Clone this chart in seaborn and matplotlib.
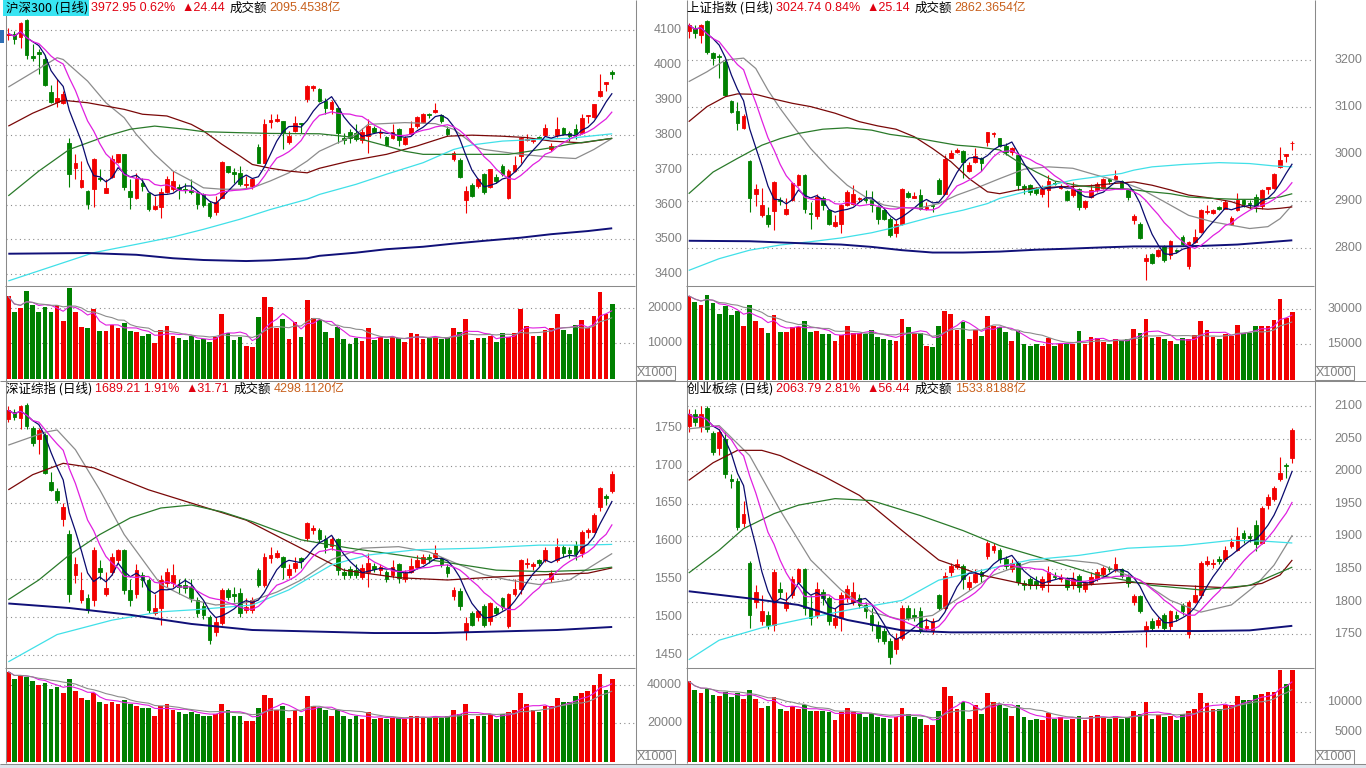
import numpy as np
import pandas as pd
import matplotlib
matplotlib.use("Agg")
import matplotlib.pyplot as plt
import seaborn as sns
from matplotlib.patches import Rectangle

# ======================= DATA =======================
# ---- 沪深300 ----
hs_open = [4086,4088,4080,4128,4026,4038,4016,3923,3895,3892,
           3776,3704,3650,3639,3646,3677,3634,3680,3722,3746,
           3639,3620,3663,3632,3588,3593,3637,3644,3650,3646,
           3642,3632,3629,3604,3580,3620,3710,3693,3691,3656,
           3653,3765,3720,3838,3840,3839,3780,3811,3834,3904,
           3935,3930,3897,3873,3878,3792,3809,3806,3784,3796,
           3820,3804,3794,3790,3816,3774,3803,3825,3838,3860,
           3864,3858,3818,3732,3727,3612,3656,3653,3689,3650,
           3679,3712,3620,3696,3739,3785,3782,3794,3799,3759,
           3799,3820,3806,3818,3806,3854,3851,3911,3947,3981]
hs_high = [4105,4097,4124,4131,4059,4045,4030,3944,3959,3925,
           3792,3744,3725,3641,3734,3701,3674,3742,3746,3746,
           3672,3690,3677,3634,3625,3648,3682,3696,3660,3663,
           3674,3639,3634,3610,3625,3725,3712,3706,3712,3682,
           3677,3773,3846,3859,3859,3839,3811,3854,3835,3942,
           3944,3935,3906,3901,3880,3806,3816,3830,3820,3844,
           3825,3816,3796,3830,3820,3796,3839,3854,3863,3863,
           3892,3860,3825,3753,3734,3653,3663,3677,3691,3703,
           3687,3715,3701,3739,3794,3801,3790,3796,3830,3777,
           3851,3822,3811,3830,3859,3858,3889,3973,3951,3987]
hs_low = [4071,4061,4050,4018,4011,3973,3940,3892,3880,3889,
          3650,3674,3647,3588,3593,3668,3632,3677,3720,3641,
          3588,3615,3639,3582,3584,3561,3634,3639,3617,3634,
          3629,3588,3593,3561,3569,3618,3691,3663,3653,3648,
          3644,3718,3718,3820,3838,3758,3774,3809,3806,3895,
          3925,3895,3860,3860,3777,3774,3777,3782,3777,3749,
          3806,3792,3768,3787,3768,3771,3801,3820,3835,3849,
          3863,3835,3796,3725,3677,3577,3622,3648,3629,3647,
          3663,3682,3617,3694,3720,3782,3777,3787,3796,3753,
          3794,3799,3782,3787,3803,3835,3849,3908,3927,3959]
hs_close = [4090,4076,4121,4028,4021,4033,3944,3895,3906,3916,
            3689,3720,3670,3603,3732,3673,3648,3730,3746,3650,
            3622,3672,3653,3586,3596,3637,3674,3668,3646,3642,
            3636,3603,3599,3567,3608,3722,3694,3689,3658,3660,
            3672,3720,3830,3842,3844,3806,3796,3835,3830,3940,
            3939,3897,3876,3895,3806,3786,3790,3787,3809,3825,
            3809,3808,3771,3809,3784,3792,3820,3852,3861,3857,
            3872,3839,3803,3749,3679,3639,3625,3674,3637,3701,
            3668,3687,3696,3713,3792,3789,3786,3790,3820,3767,
            3818,3803,3796,3801,3849,3858,3887,3927,3951,3973]
hs_vol = [23200,18900,19900,24700,20700,18900,20100,18900,20800,16300,
          25600,18700,14700,14400,19700,13400,13400,15100,14200,15600,
          13400,13200,12100,12500,10100,13700,14900,12100,11500,10900,
          12100,10900,11100,10400,11800,18300,13000,10900,11800,9200,
          8900,17500,22900,20100,14400,16900,11100,15900,11800,22100,
          17200,16600,13200,11500,14700,11100,9900,11500,10600,14200,
          10900,11800,11100,11800,11500,10400,12800,12500,11100,11500,
          11800,11300,11500,14200,13200,16900,10900,11500,11500,12100,
          10400,12800,11800,13000,19700,14900,12100,12100,13700,14200,
          18200,13700,12600,15100,16600,14400,17700,24500,18300,21000]
hs_gray_i = [0,8,9,13,16,19,21,24,27,30,32,35,38,40,43,46,49,51,54,57,59,65,70,73,77,78,84,89,93,96,99]
hs_gray_v = [3937,4021,4016,3954,3892,3849,3801,3744,3696,3668,3648,3644,3644,3648,3668,3691,3725,3753,3777,3801,3830,3835,3832,3816,3763,3758,3744,3736,3732,3758,3790]
hs_maroon_i = [0,4,9,13,19,22,26,30,32,35,38,40,43,46,49,51,56,62,67,72,76,81,85,89,94,99]
hs_maroon_v = [3825,3862,3899,3892,3873,3859,3854,3830,3811,3773,3739,3715,3704,3696,3691,3704,3725,3744,3768,3796,3799,3796,3792,3782,3777,3790]
hs_green_i = [0,5,10,16,20,24,29,32,38,43,51,57,59,62,65,68,73,78,82,84,89,92,99]
hs_green_v = [3625,3696,3758,3796,3816,3825,3816,3809,3806,3804,3803,3792,3782,3768,3753,3744,3744,3744,3744,3749,3763,3773,3790]
hs_cyan_i = [0,14,21,27,32,38,43,49,51,57,62,68,73,76,81,87,92,99]
hs_cyan_v = [3381,3462,3486,3507,3529,3558,3586,3615,3629,3658,3687,3720,3758,3771,3782,3787,3790,3803]
hs_navy_i = [0,13,21,27,32,39,43,49,51,57,62,68,73,78,84,89,95,99]
hs_navy_v = [3459,3461,3456,3446,3441,3438,3440,3446,3453,3462,3472,3479,3488,3496,3505,3515,3524,3532]

# ---- 上证指数 ----
sh_open = [3261.7,3267.3,3253.2,3282.9,3214.2,3208.5,3196.4,3112.8,3091.5,3054.6,
           2985.2,2916.4,2871.7,2870.3,2878.8,2903.6,2873.1,2902.2,2934.1,2955.4,
           2875.3,2868.9,2907.2,2880.9,2847.6,2852.6,2891.6,2895.1,2904.9,2905.7,
           2902.2,2888.0,2880.9,2861.8,2833.4,2852.6,2917.8,2907.9,2912.8,2884.5,
           2893.0,2944.8,2916.4,2992.2,3005.0,3006.4,2963.9,2982.3,2992.2,3024.9,
           3042.6,3033.4,3017.8,3005.0,2998.0,2932.0,2935.5,2925.6,2914.3,2923.5,
           2939.0,2929.1,2921.3,2912.8,2925.6,2888.0,2909.3,2923.5,2928.4,2946.2,
           2946.9,2943.3,2923.5,2859.7,2852.6,2772.5,2788.8,2783.8,2805.1,2785.2,
           2797.3,2824.2,2762.5,2813.6,2834.9,2877.4,2876.0,2887.3,2884.5,2852.6,
           2880.9,2902.2,2896.5,2909.3,2890.2,2927.0,2928.4,2973.1,2996.5,3023.4]
sh_high = [3278.0,3274.4,3275.9,3285.0,3217.7,3212.0,3200.0,3115.0,3110.0,3084.4,
           2987.3,2937.6,2928.4,2888.0,2942.6,2909.3,2907.2,2941.2,2956.8,2956.8,
           2898.7,2916.4,2911.4,2883.0,2871.7,2895.1,2923.5,2935.5,2909.3,2923.5,
           2921.3,2891.6,2884.5,2866.8,2859.7,2928.4,2921.3,2919.9,2925.6,2898.7,
           2895.1,2948.3,2997.9,3008.6,3012.1,3008.6,2983.7,3012.1,2994.4,3047.6,
           3047.6,3034.8,3022.7,3015.6,2999.3,2937.6,2937.6,2930.6,2934.1,2955.4,
           2942.6,2937.6,2923.5,2941.2,2928.4,2902.2,2937.6,2941.2,2948.3,2948.3,
           2966.0,2944.8,2927.0,2873.8,2856.1,2788.8,2790.9,2799.4,2806.5,2817.1,
           2799.4,2827.8,2815.0,2840.5,2884.5,2891.6,2884.5,2890.2,2902.2,2868.9,
           2918.5,2905.7,2902.2,2916.4,2927.0,2930.6,2958.9,3015.6,2999.3,3027.7]
sh_low = [3246.0,3246.0,3235.4,3212.0,3189.4,3161.0,3124.0,3086.5,3051.1,3053.2,
          2877.4,2890.2,2866.8,2845.5,2838.4,2893.0,2871.7,2900.1,2932.7,2876.0,
          2842.0,2863.2,2880.9,2850.5,2845.5,2833.4,2890.2,2891.6,2898.7,2897.2,
          2877.4,2852.6,2859.7,2824.2,2824.2,2850.5,2907.2,2905.8,2880.9,2880.9,
          2877.4,2915.0,2915.0,2990.8,3001.5,2949.7,2962.5,2980.9,2963.9,3017.8,
          3036.9,3015.7,2998.0,2998.0,2923.5,2916.4,2912.8,2912.8,2909.3,2888.0,
          2934.1,2927.0,2900.1,2909.3,2880.9,2884.5,2907.2,2919.9,2925.6,2937.6,
          2944.8,2925.6,2902.2,2852.6,2820.7,2732.0,2767.5,2781.7,2771.1,2776.7,
          2790.9,2807.9,2755.4,2812.2,2833.4,2873.8,2873.8,2880.9,2883.0,2849.0,
          2878.8,2888.0,2884.5,2877.4,2884.5,2916.4,2927.0,2971.0,2983.7,3008.6]
sh_close = [3274.4,3256.7,3274.4,3217.7,3203.5,3205.7,3125.5,3088.7,3065.3,3081.6,
            2907.2,2927.0,2893.0,2852.6,2941.2,2900.8,2884.5,2937.7,2955.4,2884.5,
            2872.4,2909.3,2893.0,2852.6,2856.1,2891.6,2919.9,2914.3,2907.7,2902.2,
            2891.6,2863.2,2861.8,2829.2,2852.6,2927.0,2909.3,2910.7,2884.5,2887.3,
            2890.2,2916.4,2989.4,3001.5,3007.8,2983.7,2976.7,2996.5,2980.2,3047.6,
            3045.4,3017.8,3005.0,3013.5,2934.1,2929.1,2919.9,2918.5,2927.0,2942.6,
            2936.2,2932.0,2902.2,2927.0,2888.0,2900.1,2923.5,2937.6,2946.9,2943.3,
            2953.3,2928.4,2909.3,2868.9,2822.1,2779.5,2769.6,2795.9,2774.6,2815.0,
            2794.4,2810.0,2813.6,2824.2,2882.4,2880.2,2880.9,2884.5,2898.7,2864.6,
            2902.2,2895.1,2893.7,2890.2,2923.5,2929.9,2956.8,2987.3,2999.6,3024.7]
sh_vol = [35600,32900,31700,36000,32400,27900,31400,27400,29300,22900,
          31700,24900,22000,19600,27400,20300,20300,22400,22400,24900,
          20300,20600,19300,19300,16300,18900,22700,20000,20000,19200,
          21000,18200,17400,16700,16300,25700,22400,19600,19600,14300,
          13900,22700,29300,27900,21000,24600,17200,21000,18600,27000,
          22900,22200,20300,16300,20600,15300,14300,15300,14300,17700,
          14200,15300,15300,15300,20600,15200,18200,17700,16000,15300,
          17200,16700,17400,21700,19900,25700,17700,18200,17200,16300,
          15300,17700,17400,18900,24900,21000,18200,17200,19300,18600,
          23200,19600,20000,22700,22700,22700,25300,34200,26300,28900]
sh_gray_i = [0,3,6,9,11,13,15,17,20,23,26,29,32,35,38,41,44,47,51,55,59,63,67,71,74,78,82,86,89,92,95,97,99]
sh_gray_v = [3154,3175,3200,3204,3182,3136,3097,3062,3012,2970,2934,2909,2892,2886,2886,2895,2913,2927,2948,2968,2973,2970,2955,2941,2927,2899,2870,2856,2849,2842,2846,2863,2892]
sh_maroon_i = [0,3,6,8,11,14,17,20,24,28,31,34,37,40,43,46,49,51,54,58,62,66,70,73,76,79,82,86,89,92,95,97,99]
sh_maroon_v = [3069,3101,3122,3128,3127,3117,3108,3101,3087,3069,3060,3053,3037,3012,2984,2948,2920,2916,2924,2929,2931,2933,2938,2941,2934,2924,2913,2906,2899,2886,2883,2885,2888]
sh_green_i = [0,4,8,12,15,18,22,26,30,33,37,40,44,47,51,54,57,60,64,68,72,75,79,82,86,90,94,97,99]
sh_green_v = [2916,2962,2991,3019,3033,3044,3053,3056,3051,3042,3035,3028,3019,3016,3009,2984,2962,2943,2933,2928,2926,2921,2916,2909,2906,2904,2904,2909,2916]
sh_cyan_i = [0,5,10,15,20,25,30,33,36,40,45,49,51,57,60,63,67,71,73,76,81,87,92,96,99]
sh_cyan_v = [2753,2778,2796,2807,2814,2822,2833,2842,2853,2867,2881,2895,2906,2926,2936,2945,2952,2959,2966,2973,2978,2982,2980,2975,2973]
sh_navy_i = [0,10,20,25,30,35,40,45,51,57,62,68,73,79,84,90,95,99]
sh_navy_v = [2816,2815,2810,2808,2803,2796,2791,2791,2793,2797,2799,2802,2804,2804,2805,2808,2813,2817]

# ---- 深证综指 ----
sz_open = [1761,1771,1763,1780,1750,1735,1740,1678,1666,1630,
           1610,1555,1523,1525,1523,1565,1530,1560,1575,1589,
           1536,1530,1555,1549,1505,1512,1545,1545,1543,1542,
           1540,1523,1515,1500,1480,1492,1536,1530,1532,1510,
           1510,1562,1543,1578,1580,1580,1555,1565,1578,1605,
           1615,1615,1603,1594,1603,1560,1563,1562,1553,1560,
           1568,1562,1560,1555,1570,1550,1560,1566,1572,1580,
           1580,1578,1566,1528,1535,1480,1505,1500,1515,1495,
           1512,1525,1488,1530,1537,1570,1568,1575,1575,1550,
           1575,1592,1588,1595,1584,1612,1613,1645,1660,1666]
sz_high = [1778,1775,1780,1782,1752,1750,1743,1691,1670,1650,
           1615,1580,1560,1530,1592,1575,1560,1585,1590,1590,
           1550,1570,1560,1552,1530,1555,1565,1570,1550,1552,
           1550,1527,1520,1503,1500,1538,1538,1540,1538,1525,
           1526,1565,1585,1592,1588,1581,1570,1580,1580,1626,
           1622,1617,1608,1606,1605,1565,1567,1570,1570,1585,
           1572,1570,1562,1575,1572,1562,1578,1582,1583,1583,
           1595,1580,1570,1540,1538,1500,1508,1510,1517,1520,
           1515,1527,1532,1550,1577,1578,1573,1577,1592,1562,
           1605,1595,1592,1600,1615,1618,1637,1672,1663,1693]
sz_low = [1757,1760,1748,1748,1726,1715,1689,1666,1650,1620,
          1520,1545,1518,1505,1515,1550,1528,1555,1572,1530,
          1515,1525,1540,1505,1503,1490,1540,1540,1530,1532,
          1520,1500,1498,1465,1475,1490,1523,1520,1500,1505,
          1505,1540,1540,1572,1578,1550,1552,1560,1565,1600,
          1610,1598,1585,1588,1555,1550,1552,1552,1550,1540,
          1560,1556,1546,1552,1545,1547,1558,1563,1570,1572,
          1578,1566,1553,1522,1510,1470,1488,1495,1487,1490,
          1503,1510,1485,1528,1530,1565,1562,1568,1573,1547,
          1573,1580,1578,1575,1580,1605,1612,1640,1648,1664]
sz_close = [1773,1764,1778,1752,1730,1747,1690,1668,1655,1645,
            1530,1570,1536,1510,1589,1560,1538,1580,1589,1536,
            1523,1562,1549,1510,1512,1549,1560,1555,1540,1538,
            1525,1505,1503,1470,1494,1536,1526,1528,1506,1513,
            1523,1543,1580,1582,1584,1566,1563,1572,1574,1624,
            1618,1603,1592,1603,1562,1555,1556,1555,1565,1572,
            1564,1566,1550,1566,1552,1558,1568,1575,1580,1578,
            1585,1570,1558,1536,1515,1492,1490,1508,1490,1518,
            1506,1514,1530,1537,1575,1572,1570,1572,1588,1558,
            1592,1585,1585,1583,1612,1615,1635,1670,1657.5,1689.2]
sz_vol = [47000,43000,45000,44000,42000,40000,41000,38000,39000,36000,
          43000,37000,33000,32000,36000,31000,30000,31000,30000,32000,
          30000,29000,28000,28000,24000,29000,30000,27000,26000,25000,
          26000,25000,24000,24000,25000,30000,27000,24000,24000,21000,
          21000,28000,35000,33000,27000,29000,23000,27000,24000,34000,
          29000,28000,27000,24000,27000,24000,22000,24000,22000,26000,
          22000,23000,22000,23000,23000,22000,24000,24000,23000,23000,
          24000,23000,24000,27000,25000,30000,22000,24000,24000,25000,
          22000,25000,26000,27000,36000,30000,27000,26000,29000,29000,
          33000,31000,31000,34000,36000,37000,40000,46000,37400,43200]
sz_gray_i = [0,6,8,11,15,19,22,25,30,34,39,44,48,53,58,64,69,74,78,82,87,92,96,99]
sz_gray_v = [1727,1744,1747,1721,1668,1609,1576,1543,1523,1516,1519,1533,1549,1576,1591,1593,1586,1569,1556,1549,1543,1549,1569,1584]
sz_maroon_i = [0,4,9,14,18,23,31,39,47,55,64,72,80,88,95,99]
sz_maroon_v = [1668,1688,1703,1697,1684,1668,1648,1628,1595,1562,1552,1549,1553,1556,1558,1565]
sz_green_i = [0,5,10,15,20,25,30,35,40,48,56,64,72,80,88,95,99]
sz_green_v = [1523,1549,1582,1609,1631,1644,1648,1639,1626,1602,1591,1582,1572,1562,1560,1562,1566]
sz_cyan_i = [0,8,17,25,31,40,46,53,59,67,77,87,94,99]
sz_cyan_v = [1441,1477,1496,1507,1510,1516,1536,1569,1582,1589,1591,1595,1595,1596]
sz_navy_i = [0,10,20,30,40,50,60,70,80,90,99]
sz_navy_v = [1518,1512,1503,1491,1483,1481,1479,1479,1481,1483,1487]

# ---- 创业板综 ----
cy_open = [2070,2088,2068,2097,2058,2035,2050,1988,1985,1920,
           1860,1800,1770,1780,1765,1820,1790,1810,1830,1850,
           1790,1780,1815,1805,1765,1775,1805,1800,1805,1795,
           1780,1765,1755,1740,1728,1745,1790,1780,1785,1760,
           1755,1810,1790,1845,1853,1855,1822,1830,1845,1870,
           1880,1880,1865,1850,1860,1828,1835,1832,1822,1830,
           1840,1835,1835,1825,1840,1820,1828,1835,1842,1852,
           1848,1850,1838,1800,1808,1755,1770,1765,1780,1762,
           1780,1795,1750,1800,1810,1858,1858,1866,1865,1885,
           1880,1905,1900,1918,1890,1948,1958,1988,2009,2021]
cy_high = [2095,2095,2100,2100,2062,2065,2060,1995,1990,1955,
           1862,1825,1810,1785,1850,1830,1815,1840,1852,1852,
           1810,1830,1820,1808,1790,1815,1825,1830,1812,1800,
           1790,1770,1760,1745,1752,1795,1795,1790,1792,1775,
           1775,1812,1845,1860,1865,1858,1840,1850,1848,1893,
           1890,1883,1870,1865,1862,1833,1838,1840,1840,1855,
           1845,1842,1838,1845,1842,1832,1845,1850,1855,1855,
           1868,1852,1842,1812,1810,1770,1775,1776,1782,1787,
           1785,1798,1802,1825,1862,1870,1865,1870,1885,1897,
           1915,1910,1905,1925,1946,1965,1978,2022,2012,2066]
cy_low = [2060,2070,2060,2060,2025,2025,1990,1975,1910,1915,
          1760,1790,1765,1758,1755,1805,1785,1805,1828,1780,
          1765,1775,1795,1765,1760,1755,1800,1795,1790,1775,
          1755,1738,1735,1705,1720,1742,1772,1770,1752,1755,
          1750,1788,1788,1840,1850,1820,1818,1828,1830,1865,
          1875,1860,1850,1845,1825,1818,1820,1820,1818,1815,
          1835,1830,1818,1820,1815,1815,1825,1832,1840,1845,
          1845,1836,1822,1795,1782,1730,1755,1760,1755,1755,
          1770,1780,1745,1798,1805,1855,1852,1858,1862,1882,
          1878,1890,1892,1878,1888,1942,1955,1985,1990,2013]
cy_close = [2088,2075,2088,2065,2030,2060,1995,1985,1915,1935,
            1780,1815,1785,1765,1845,1815,1800,1835,1850,1790,
            1775,1820,1805,1770,1775,1810,1820,1815,1795,1785,
            1765,1745,1740,1715,1745,1790,1775,1777,1755,1763,
            1770,1790,1840,1855,1858,1835,1830,1843,1840,1890,
            1885,1865,1855,1860,1830,1825,1825,1825,1835,1845,
            1838,1838,1822,1835,1822,1828,1838,1845,1852,1850,
            1858,1840,1828,1808,1785,1762,1760,1772,1760,1785,
            1775,1785,1800,1810,1860,1862,1860,1862,1880,1892,
            1900,1897,1897,1889,1943,1960,1974,1998,2007.4,2063.8]
cy_vol = [13500,12000,11600,12200,11200,11000,11700,10900,11500,10500,
          12000,10500,9000,9300,10800,8800,8500,9300,8800,9500,
          8500,8500,8500,8300,7000,8300,9000,8300,8000,7600,
          8000,7500,7400,7300,7600,9000,8000,7500,7300,6300,
          6200,8500,12500,11000,8800,10000,7200,9500,8000,11500,
          10000,9500,9000,7800,9500,7500,7000,7300,7000,8200,
          7200,7500,7000,7300,7700,7100,7800,7900,7400,7300,
          7800,7200,7500,8600,8100,10000,7300,7900,7600,7800,
          7000,8000,8500,8800,11500,9800,8800,8800,9600,9500,
          11000,10300,10400,11200,11400,11700,11700,15400,13000,15400]
cy_gray_i = [0,5,10,15,20,25,30,35,40,45,50,56,62,67,74,79,84,89,93,96,99]
cy_gray_v = [2065,2070,2024,1940,1864,1818,1784,1772,1779,1810,1841,1861,1864,1859,1833,1802,1784,1795,1825,1856,1902]
cy_maroon_i = [0,4,8,12,15,22,28,35,41,48,56,64,72,80,89,94,97,99]
cy_maroon_v = [1986,2013,2032,2032,2024,1993,1963,1909,1864,1841,1825,1825,1830,1825,1821,1828,1841,1864]
cy_green_i = [0,5,9,14,18,24,30,38,45,51,59,67,76,84,92,99]
cy_green_v = [1844,1879,1912,1935,1948,1958,1955,1932,1909,1886,1864,1841,1825,1818,1825,1853]
cy_cyan_i = [0,5,12,18,26,35,41,48,56,64,72,81,89,94,99]
cy_cyan_v = [1711,1741,1760,1772,1787,1802,1833,1848,1864,1871,1882,1886,1894,1893,1890]
cy_navy_i = [0,10,18,26,35,43,51,59,68,76,84,92,99]
cy_navy_v = [1816,1805,1795,1772,1756,1753,1753,1753,1753,1755,1755,1756,1763]

# titles
hs_title = ["沪深300 (日线)", "3972.95 0.62%", "▲24.44", "成交额", "2095.4538亿"]
sh_title = ["上证指数 (日线)", "3024.74 0.84%", "▲25.14", "成交额", "2862.3654亿"]
sz_title = ["深证综指 (日线)", "1689.21 1.91%", "▲31.71", "成交额", "4298.1120亿"]
cy_title = ["创业板综 (日线)", "2063.79 2.81%", "▲56.44", "成交额", "1533.8188亿"]

hs_pticks = [3400, 3500, 3600, 3700, 3800, 3900, 4000, 4100]
sh_pticks = [2800, 2900, 3000, 3100, 3200]
sz_pticks = [1450, 1500, 1550, 1600, 1650, 1700, 1750]
cy_pticks = [1750, 1800, 1850, 1900, 1950, 2000, 2050, 2100]
hs_vticks = [10000, 20000]
sh_vticks = [15000, 30000]
sz_vticks = [20000, 40000]
cy_vticks = [5000, 10000]

# ======================= STYLE =======================
sns.set_theme(style="white")
plt.rcParams["font.family"] = ["Noto Sans CJK SC", "DejaVu Sans"]
plt.rcParams["lines.solid_capstyle"] = "butt"

W, H = 1366, 768
fig = plt.figure(figsize=(W / 100, H / 100), dpi=100, facecolor="white")

RED = "#f20000"
GREEN = "#008000"
C_MA5 = "#0a0a6e"
C_MA10 = "#e020e0"
C_GRAY = "#8c8c8c"
C_MAROON = "#7a0808"
C_GREENMA = "#2a7a2a"
C_CYAN = "#40e0e8"
C_NAVY = "#101078"
FRAME = "#8a8a8a"
LABEL = "#808080"
NUMFONT = ["Liberation Sans", "DejaVu Sans"]


def add_ax(x0, y0, x1, y1):
    return fig.add_axes([x0 / W, 1 - y1 / H, (x1 - x0) / W, (y1 - y0) / H])


def lim_from(anchors, ytop, ybot):
    (va, ya), (vb, yb) = anchors
    s = (va - vb) / (yb - ya)
    return (va - (ybot - ya) * s, va - (ytop - ya) * s)


panels = [
    dict(o=hs_open, h=hs_high, l=hs_low, c=hs_close, v=hs_vol,
         mas=[(hs_gray_i, hs_gray_v, C_GRAY, 0.9), (hs_maroon_i, hs_maroon_v, C_MAROON, 0.9),
              (hs_green_i, hs_green_v, C_GREENMA, 0.9), (hs_cyan_i, hs_cyan_v, C_CYAN, 0.9),
              (hs_navy_i, hs_navy_v, C_NAVY, 1.4)],
         title=hs_title, pt=hs_pticks, vt=hs_vticks, xs=(6, 635), x_first=8.3, sp=6.1,
         py=(16, 285.5), vy=(286, 380.5), pa=((4100, 30.2), (3400, 274.3)),
         va=((20000, 307.7), (10000, 343.3)), lab_x=682, ty=8, hl=True),
    dict(o=sh_open, h=sh_high, l=sh_low, c=sh_close, v=sh_vol,
         mas=[(sh_gray_i, sh_gray_v, C_GRAY, 0.9), (sh_maroon_i, sh_maroon_v, C_MAROON, 0.9),
              (sh_green_i, sh_green_v, C_GREENMA, 0.9), (sh_cyan_i, sh_cyan_v, C_CYAN, 0.9),
              (sh_navy_i, sh_navy_v, C_NAVY, 1.4)],
         title=sh_title, pt=sh_pticks, vt=sh_vticks, xs=(687, 1314), x_first=688.7, sp=6.097,
         py=(16, 285.5), vy=(286, 380.5), pa=((3200, 60.0), (2800, 248.3)),
         va=((30000, 309.0), (15000, 344.3)), lab_x=1362, ty=8, hl=False),
    dict(o=sz_open, h=sz_high, l=sz_low, c=sz_close, v=sz_vol,
         mas=[(sz_gray_i, sz_gray_v, C_GRAY, 0.9), (sz_maroon_i, sz_maroon_v, C_MAROON, 0.9),
              (sz_green_i, sz_green_v, C_GREENMA, 0.9), (sz_cyan_i, sz_cyan_v, C_CYAN, 0.9),
              (sz_navy_i, sz_navy_v, C_NAVY, 1.4)],
         title=sz_title, pt=sz_pticks, vt=sz_vticks, xs=(6, 635), x_first=8.3, sp=6.1,
         py=(397, 667.5), vy=(668, 763), pa=((1750, 427.7), (1450, 655.0)),
         va=((40000, 685.0), (20000, 723.3)), lab_x=682, ty=389, hl=False),
    dict(o=cy_open, h=cy_high, l=cy_low, c=cy_close, v=cy_vol,
         mas=[(cy_gray_i, cy_gray_v, C_GRAY, 0.9), (cy_maroon_i, cy_maroon_v, C_MAROON, 0.9),
              (cy_green_i, cy_green_v, C_GREENMA, 0.9), (cy_cyan_i, cy_cyan_v, C_CYAN, 0.9),
              (cy_navy_i, cy_navy_v, C_NAVY, 1.4)],
         title=cy_title, pt=cy_pticks, vt=cy_vticks, xs=(687, 1314), x_first=688.7, sp=6.097,
         py=(397, 667.5), vy=(668, 763), pa=((2100, 406.0), (1750, 634.3)),
         va=((10000, 702.3), (5000, 732.3)), lab_x=1362, ty=389, hl=False),
]


def draw_panel(p):
    x0, x1 = p["xs"]
    xlim = ((x0 - p["x_first"]) / p["sp"], (x1 - p["x_first"]) / p["sp"])
    axp = add_ax(x0, p["py"][0], x1, p["py"][1])
    axv = add_ax(x0, p["vy"][0], x1, p["vy"][1])

    o = np.array(p["o"], float); h = np.array(p["h"], float)
    l = np.array(p["l"], float); c = np.array(p["c"], float)
    v = np.array(p["v"], float)
    idx = np.arange(len(o))
    up = c >= o
    cols = np.where(up, RED, GREEN)

    for t in p["pt"]:
        axp.axhline(t, color="#8c8c8c", lw=0.8, ls=(0, (1, 3)), zorder=1)
    for t in p["vt"]:
        axv.axhline(t, color="#8c8c8c", lw=0.8, ls=(0, (1, 3)), zorder=1)

    axp.vlines(idx, l, h, colors=cols, lw=0.8, zorder=3)
    axp.bar(idx, np.abs(c - o), bottom=np.minimum(o, c), width=0.6,
            color=cols, edgecolor=cols, linewidth=0.6, zorder=4)

    cs = pd.Series(c)
    sns.lineplot(x=idx, y=cs.rolling(5, min_periods=1).mean().values, ax=axp,
                 color=C_MA5, lw=0.9, zorder=6)
    sns.lineplot(x=idx, y=cs.rolling(10, min_periods=1).mean().values, ax=axp,
                 color=C_MA10, lw=0.9, zorder=6)
    for mi, mv, col, lw in p["mas"]:
        sns.lineplot(x=mi, y=mv, ax=axp, color=col, lw=lw, zorder=5)

    df = pd.DataFrame({"i": idx, "v": v, "d": np.where(up, "up", "dn")})
    sns.barplot(data=df, x="i", y="v", hue="d", palette={"up": RED, "dn": GREEN},
                native_scale=True, dodge=False, width=0.78, saturation=1,
                errorbar=None, legend=False, linewidth=0, ax=axv, zorder=3)
    vs = pd.Series(v)
    sns.lineplot(x=idx, y=vs.rolling(5, min_periods=1).mean().values, ax=axv,
                 color=C_MA10, lw=0.8, zorder=5)
    sns.lineplot(x=idx, y=vs.rolling(10, min_periods=1).mean().values, ax=axv,
                 color=C_GRAY, lw=0.8, zorder=5)

    axp.set_xlim(*xlim); axv.set_xlim(*xlim)
    axp.set_ylim(*lim_from(p["pa"], p["py"][0], p["py"][1]))
    axv.set_ylim(*lim_from(p["va"], p["vy"][0], p["vy"][1]))
    for ax in (axp, axv):
        ax.set_axis_off()
        ax.patch.set_alpha(0)

    lx = (p["lab_x"] - x0) / (x1 - x0)
    for ax, ticks in ((axp, p["pt"]), (axv, p["vt"])):
        tr = ax.get_yaxis_transform()
        for t in ticks:
            ax.text(lx, t, f"{t}", transform=tr, ha="right", va="center",
                    fontsize=9, color=LABEL, family=NUMFONT, clip_on=False)


for p in panels:
    draw_panel(p)

ov = fig.add_axes([0, 0, 1, 1])
ov.set_xlim(0, W)
ov.set_ylim(H, 0)
ov.set_axis_off()
ov.patch.set_alpha(0)

LK = dict(color=FRAME, lw=0.75, solid_capstyle="butt")
for x in (5.5, 635.5, 686.5, 1314.5):
    ov.plot([x, x], [0, 763], **LK)
ov.plot([5, 635], [285.5, 285.5], **LK)
ov.plot([686, 1314], [285.5, 285.5], **LK)
ov.plot([0, W], [380.5, 380.5], **LK)
ov.plot([5, 635], [667.5, 667.5], **LK)
ov.plot([686, 1314], [667.5, 667.5], **LK)
ov.plot([0, W], [763.5, 763.5], **LK)
ov.add_patch(Rectangle((0, 764), W, 4, facecolor="#dfe5ec", edgecolor="none"))
ov.add_patch(Rectangle((0, 30), 4, 13, facecolor="#2f6fb5", edgecolor="none"))

for bx, by in ((635.5, 366), (1314.5, 366), (635.5, 750), (1314.5, 750)):
    ov.add_patch(Rectangle((bx, by), 39, 14, facecolor="white", edgecolor=FRAME, lw=0.75))
    ov.text(bx + 19.5, by + 7.5, "X1000", ha="center", va="center", fontsize=9,
            color=LABEL, family=NUMFONT)

renderer = fig.canvas.get_renderer()
T_RED = "#e00010"
T_ORANGE = "#c8601c"


def title_row(x, y, pieces, highlight):
    styles = [("#000000", ["Noto Sans CJK SC", "DejaVu Sans"]),
              (T_RED, ["Liberation Sans", "Noto Sans CJK SC"]),
              (T_RED, ["Liberation Sans", "Noto Sans CJK SC"]),
              ("#000000", ["Noto Sans CJK SC", "DejaVu Sans"]),
              (T_ORANGE, ["Liberation Sans", "Noto Sans CJK SC"])]
    gaps = [3, 6, 4, 3, 0]
    for k, (s, (col, fam)) in enumerate(zip(pieces, styles)):
        t = ov.text(x, y, s, ha="left", va="center", fontsize=9, color=col,
                    family=fam, zorder=5)
        bb = t.get_window_extent(renderer=renderer)
        if k == 0 and highlight:
            ov.add_patch(Rectangle((x - 3, 0), bb.width + 4, 15.5,
                                   facecolor="#38e4f2", edgecolor="none", zorder=4))
        x += bb.width + gaps[k]


title_row(6, 8, panels[0]["title"], True)
title_row(687, 8, panels[1]["title"], False)
title_row(6, 389, panels[2]["title"], False)
title_row(687, 389, panels[3]["title"], False)

fig.savefig("out.png", dpi=100, facecolor="white")
